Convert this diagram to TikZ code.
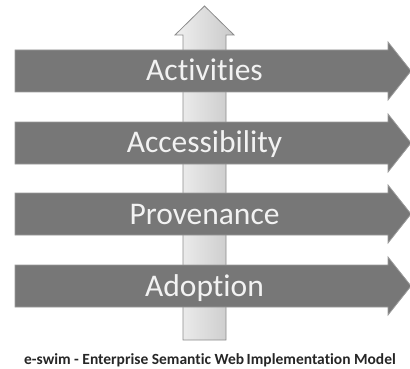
\documentclass[tikz,border=0pt]{standalone}
\usepackage{fontspec}
\setmainfont{Carlito}[Ligatures={NoCommon}]
\usepackage{tikz}

\definecolor{bargrey}{HTML}{777777}
\definecolor{baredge}{HTML}{9A9A9A}
\definecolor{upedge}{HTML}{8C8C8C}

\begin{document}
\begin{tikzpicture}[x=1pt,y=-1pt,
  bar/.style={fill=bargrey,draw=baredge,line width=0.8pt,line join=miter},
  upbar/.style={left color=gray!12,right color=gray!42,draw=upedge,line width=0.8pt},
  barlabel/.style={anchor=base,text=white!95!black,font=\fontsize{31.5}{31.5}\selectfont}]
\useasboundingbox (0,0) rectangle (410,369);

% upward arrow behind the bars
\draw[upbar] (183,340) -- (183,35) -- (175,35) -- (204.5,6) -- (234,35)
  -- (226,35) -- (226,340) -- cycle;

\foreach \y/\name/\txt in {71/act/Activities, 143/acc/Accessibility,
                           214/prov/Provenance, 286/adop/Adoption}{
    \draw[bar] (15,\y-21) -- (388,\y-21) -- (388,\y-29) -- (411,\y)
      -- (388,\y+29) -- (388,\y+21) -- (15,\y+21) -- cycle;
    \node[barlabel] (\name) at (204.5,\y+10) {\txt};
}

\node[anchor=base,font=\bfseries\fontsize{15.5}{15.5}\selectfont,text=black!85] (caption)
  at (210,364) {e-swim - Enterprise Semantic Web\,Implementation Model};

\end{tikzpicture}
\end{document}
